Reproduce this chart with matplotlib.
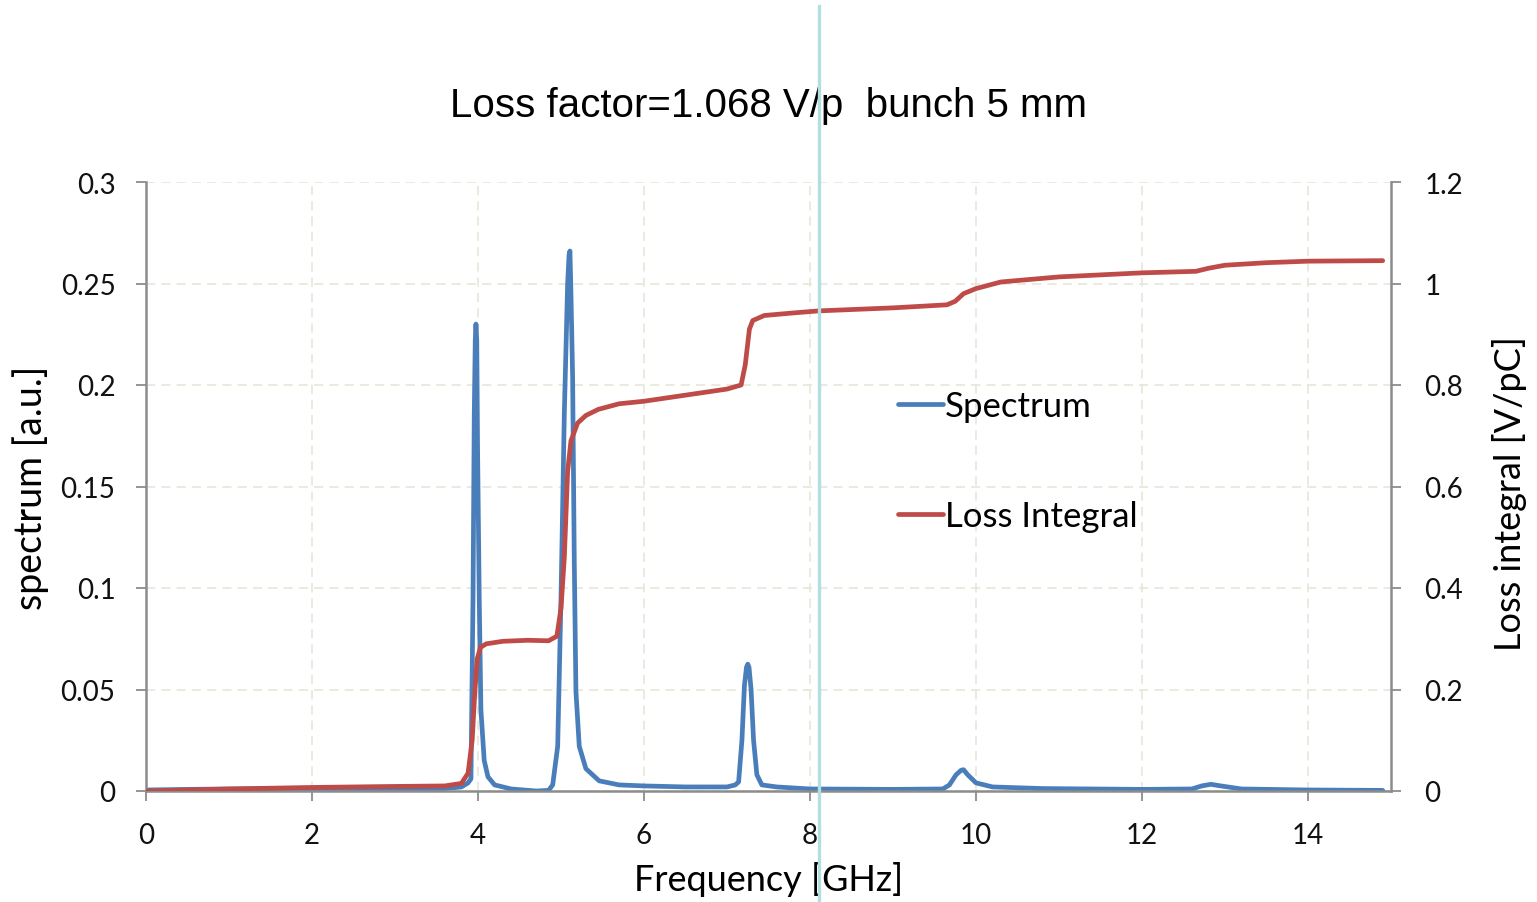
import matplotlib
matplotlib.use("Agg")
import matplotlib.pyplot as plt
from matplotlib.lines import Line2D

# spectrum of the bunch-wake (left axis)
spec_f = [0.02, 0.5, 1.0, 2.0, 3.0, 3.6, 3.8, 3.88, 3.915, 3.94, 3.955, 3.967,
          3.975, 3.985, 3.995, 4.015, 4.035, 4.075, 4.12, 4.2, 4.4, 4.7, 4.85,
          4.9, 4.96, 5.0, 5.04, 5.08, 5.097, 5.108, 5.12, 5.14, 5.16, 5.18,
          5.22, 5.30, 5.46, 5.70, 6.0, 6.5, 7.0, 7.1, 7.14, 7.18, 7.21, 7.235,
          7.25, 7.265, 7.29, 7.32, 7.36, 7.42, 7.6, 8.0, 9.0, 9.6, 9.68, 9.76,
          9.82, 9.85, 9.9, 10.0, 10.2, 10.8, 12.0, 12.6, 12.72, 12.83, 12.95,
          13.2, 14.0, 14.9]
spec_v = [0.0005, 0.0008, 0.001, 0.0012, 0.0012, 0.0012, 0.002, 0.004, 0.006,
          0.095, 0.186, 0.222, 0.230, 0.222, 0.168, 0.095, 0.040, 0.015,
          0.007, 0.003, 0.001, 0.0, 0.0003, 0.003, 0.022, 0.095, 0.186, 0.250,
          0.264, 0.266, 0.245, 0.204, 0.113, 0.049, 0.022, 0.011, 0.005,
          0.003, 0.0025, 0.002, 0.002, 0.003, 0.0045, 0.025, 0.052, 0.061,
          0.0625, 0.061, 0.050, 0.025, 0.008, 0.003, 0.002, 0.001, 0.0008,
          0.001, 0.003, 0.008, 0.0102, 0.0105, 0.008, 0.004, 0.002, 0.0012,
          0.0008, 0.001, 0.0025, 0.0033, 0.0025, 0.001, 0.0005, 0.0003]

# running loss integral (right axis)
loss_f = [0.02, 1.0, 2.0, 3.0, 3.6, 3.8, 3.88, 3.93, 3.96, 3.99, 4.03, 4.1,
          4.3, 4.6, 4.85, 4.95, 5.0, 5.04, 5.08, 5.12, 5.2, 5.3, 5.45, 5.7,
          6.0, 6.5, 7.0, 7.17, 7.22, 7.27, 7.31, 7.45, 7.8, 8.1, 9.0, 9.65,
          9.75, 9.85, 10.0, 10.3, 11.0, 12.0, 12.65, 12.8, 13.0, 13.5, 14.0,
          14.9]
loss_v = [0.0, 0.004, 0.007, 0.009, 0.01, 0.015, 0.035, 0.10, 0.19, 0.26,
          0.283, 0.29, 0.295, 0.297, 0.296, 0.305, 0.36, 0.46, 0.63, 0.69,
          0.725, 0.74, 0.752, 0.763, 0.768, 0.78, 0.792, 0.80, 0.84, 0.91,
          0.927, 0.937, 0.942, 0.946, 0.952, 0.958, 0.965, 0.98, 0.99, 1.003,
          1.013, 1.021, 1.024, 1.03, 1.036, 1.041, 1.044, 1.045]

x_ticks = [0, 2, 4, 6, 8, 10, 12, 14]
left_ticks = [0, 0.05, 0.1, 0.15, 0.2, 0.25, 0.3]
left_labels = ["0", "0.05", "0.1", "0.15", "0.2", "0.25", "0.3"]
right_ticks = [0, 0.2, 0.4, 0.6, 0.8, 1.0, 1.2]
right_labels = ["0", "0.2", "0.4", "0.6", "0.8", "1", "1.2"]

BLUE, RED = "#4a7ebb", "#be4b48"
AXC = "#8c8c8c"
GRID = "#e6e4d6"
FONT = "Lato"

fig = plt.figure(figsize=(15.37, 9.03), dpi=100)
ax = fig.add_axes([146 / 1537, 1 - 792 / 903, 1245 / 1537, 609 / 903])
ax2 = ax.twinx()

ax.plot(spec_f, spec_v, color=BLUE, lw=3.4, label="Spectrum",
        solid_joinstyle="round", solid_capstyle="round")
ax2.plot(loss_f, loss_v, color=RED, lw=3.4, label="Loss Integral",
         solid_joinstyle="round", solid_capstyle="round")

ax.set_xlim(0, 15)
ax.set_ylim(0, 0.3)
ax2.set_ylim(0, 1.2)
ax.set_xticks(x_ticks)
ax.set_xticklabels([str(t) for t in x_ticks], fontfamily=FONT, fontsize=20)
ax.set_yticks(left_ticks)
ax.set_yticklabels(left_labels, fontfamily=FONT, fontsize=20)
ax2.set_yticks(right_ticks)
ax2.set_yticklabels(right_labels, fontfamily=FONT, fontsize=20)

ax.grid(True, color=GRID, ls=(0, (6, 4)), lw=1.1)
ax.set_axisbelow(True)

for a in (ax, ax2):
    for s in a.spines.values():
        s.set_visible(False)
ax.spines["left"].set_visible(True)
ax.spines["bottom"].set_visible(True)
ax2.spines["right"].set_visible(True)
for s in (ax.spines["left"], ax.spines["bottom"], ax2.spines["right"]):
    s.set_color(AXC)
    s.set_linewidth(1.8)
ax.tick_params(axis="both", color=AXC, width=1.3, length=7, pad=15,
               labelcolor="#111111")
ax2.tick_params(axis="y", color=AXC, width=1.3, length=7, pad=17,
                labelcolor="#111111")

ax.set_xlabel("Frequency [GHz]", fontfamily=FONT, fontsize=26)
ax.set_ylabel("spectrum [a.u.]", fontfamily=FONT, fontsize=27)
ax2.set_ylabel("Loss integral [V/pC]", fontfamily=FONT, fontsize=26)
ax.xaxis.set_label_coords(0.5, -0.115)
ax.yaxis.set_label_coords(-0.078, 0.5)
ax2.yaxis.set_label_coords(1.081, 0.49)

fig.text(0.5, 1 - 106 / 903, "Loss factor=1.068 V/p  bunch 5 mm",
         ha="center", va="center", fontfamily="Liberation Sans", fontsize=29)

handles = ax.get_lines() + ax2.get_lines()
ax.legend(handles, [h.get_label() for h in handles], loc="upper left",
          bbox_to_anchor=(884 / 1537, 1 - 377 / 903),
          bbox_transform=fig.transFigure, frameon=False,
          prop={"family": FONT, "size": 25}, handlelength=1.3,
          handletextpad=0.05, labelspacing=2.25, borderaxespad=0)

# marker line through the whole figure at ~8.1 GHz
fig.add_artist(Line2D([819 / 1537, 819 / 1537], [0, 1 - 7 / 903],
                      transform=fig.transFigure, color="#b3dfe2", lw=2.4,
                      zorder=10))

fig.savefig("out.png", dpi=100)
